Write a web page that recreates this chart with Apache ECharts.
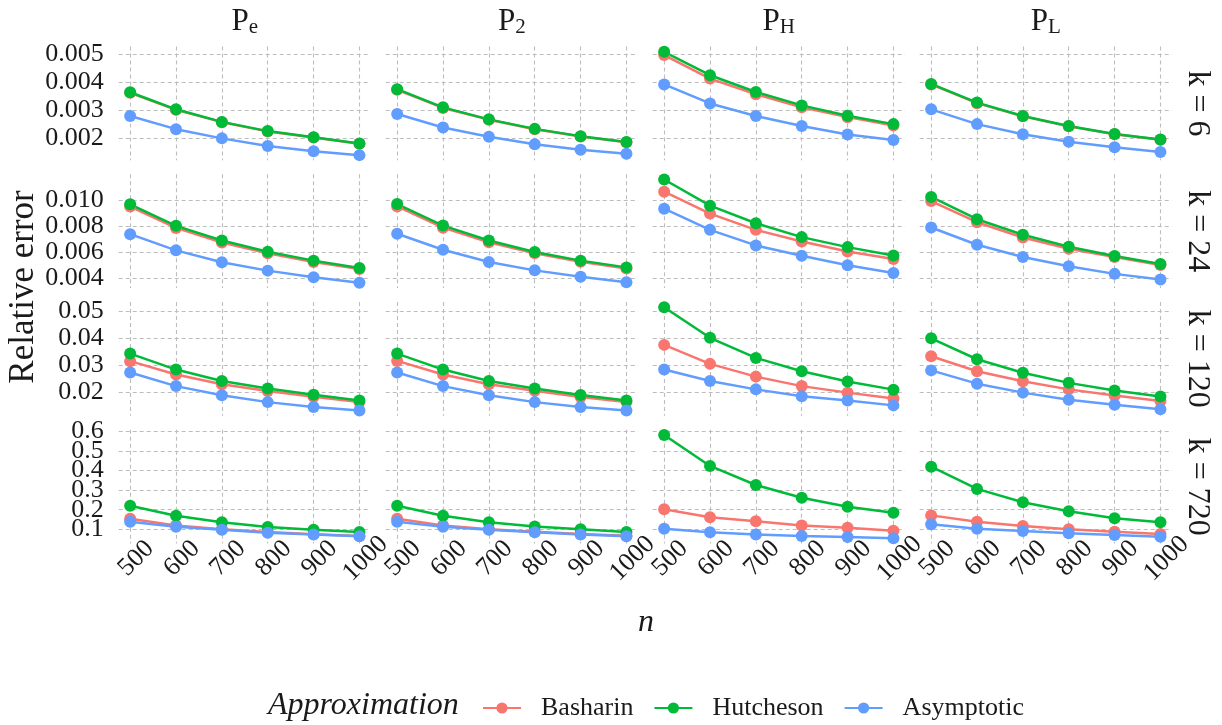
<!DOCTYPE html>
<html>
<head>
<meta charset="utf-8">
<script src="https://cdn.jsdelivr.net/npm/echarts@6/dist/echarts.min.js"></script>
<style>
html,body{margin:0;padding:0;background:#fff}
#chart{width:1222px;height:725px}
</style>
</head>
<body>
<div id="chart"></div>
<script>
var nValues=[500,600,700,800,900,1000];
var measureSubs=['e','2','H','L'];
var kValues=[6,24,120,720];
var approxNames=['Basharin','Hutcheson','Asymptotic'];

// each row = one k, inner arrays = Pe, P2, PH, PL
var basharin_k6=[
    [0.00362,0.00301,0.00257,0.00224,0.00202,0.00180],
    [0.00373,0.00308,0.00266,0.00232,0.00206,0.00185],
    [0.00497,0.00413,0.00357,0.00310,0.00275,0.00245],
    [0.00392,0.00325,0.00278,0.00242,0.00214,0.00194]];
var hutcheson_k6=[
    [0.00364,0.00303,0.00258,0.00225,0.00203,0.00181],
    [0.00375,0.00310,0.00267,0.00233,0.00207,0.00186],
    [0.00509,0.00425,0.00365,0.00317,0.00280,0.00250],
    [0.00394,0.00327,0.00279,0.00243,0.00215,0.00195]];
var asymptotic_k6=[
    [0.00279,0.00232,0.00199,0.00172,0.00153,0.00139],
    [0.00286,0.00238,0.00205,0.00178,0.00158,0.00144],
    [0.00392,0.00324,0.00279,0.00243,0.00213,0.00193],
    [0.00303,0.00250,0.00214,0.00187,0.00167,0.00150]];

var basharin_k24=[
    [0.00949,0.00785,0.00673,0.00590,0.00523,0.00468],
    [0.00950,0.00787,0.00675,0.00590,0.00524,0.00472],
    [0.01064,0.00895,0.00770,0.00680,0.00604,0.00545],
    [0.00992,0.00829,0.00711,0.00625,0.00560,0.00500]];
var hutcheson_k24=[
    [0.00967,0.00801,0.00688,0.00602,0.00533,0.00476],
    [0.00969,0.00803,0.00688,0.00600,0.00533,0.00481],
    [0.01158,0.00956,0.00821,0.00714,0.00637,0.00573],
    [0.01023,0.00852,0.00732,0.00640,0.00569,0.00507]];
var asymptotic_k24=[
    [0.00737,0.00612,0.00520,0.00456,0.00405,0.00362],
    [0.00740,0.00617,0.00523,0.00458,0.00408,0.00366],
    [0.00933,0.00770,0.00650,0.00571,0.00497,0.00438],
    [0.00788,0.00655,0.00561,0.00489,0.00431,0.00387]];

var basharin_k120=[
    [0.0315,0.0266,0.0230,0.0205,0.0184,0.0164],
    [0.0316,0.0266,0.0230,0.0206,0.0183,0.0164],
    [0.0375,0.0305,0.0258,0.0223,0.0199,0.0177],
    [0.0333,0.0278,0.0241,0.0211,0.0188,0.0168]];
var hutcheson_k120=[
    [0.0343,0.0284,0.0242,0.0214,0.0191,0.0170],
    [0.0343,0.0284,0.0242,0.0214,0.0190,0.0170],
    [0.0514,0.0401,0.0327,0.0278,0.0240,0.0210],
    [0.0399,0.0322,0.0272,0.0235,0.0207,0.0185]];
var asymptotic_k120=[
    [0.0273,0.0223,0.0189,0.0164,0.0146,0.0133],
    [0.0273,0.0223,0.0189,0.0164,0.0146,0.0133],
    [0.0284,0.0242,0.0211,0.0186,0.0170,0.0152],
    [0.0281,0.0232,0.0199,0.0173,0.0154,0.0138]];

var basharin_k720=[
    [0.154,0.120,0.100,0.086,0.075,0.066],
    [0.154,0.120,0.100,0.087,0.076,0.067],
    [0.202,0.161,0.141,0.120,0.108,0.093],
    [0.171,0.139,0.117,0.100,0.088,0.076]];
var hutcheson_k720=[
    [0.220,0.169,0.136,0.112,0.098,0.086],
    [0.220,0.169,0.136,0.114,0.100,0.086],
    [0.581,0.423,0.326,0.261,0.215,0.185],
    [0.419,0.306,0.238,0.192,0.156,0.136]];
var asymptotic_k720=[
    [0.139,0.113,0.098,0.083,0.074,0.065],
    [0.139,0.113,0.098,0.085,0.074,0.065],
    [0.103,0.085,0.074,0.066,0.061,0.054],
    [0.126,0.103,0.091,0.080,0.071,0.062]];

var yTicks_k6=['0.002','0.003','0.004','0.005'];
var yTicks_k24=['0.004','0.006','0.008','0.010'];
var yTicks_k120=['0.02','0.03','0.04','0.05'];
var yTicks_k720=['0.1','0.2','0.3','0.4','0.5','0.6'];

var rowsData=[
    [basharin_k6,hutcheson_k6,asymptotic_k6],
    [basharin_k24,hutcheson_k24,asymptotic_k24],
    [basharin_k120,hutcheson_k120,asymptotic_k120],
    [basharin_k720,hutcheson_k720,asymptotic_k720]];
var yTickRows=[yTicks_k6,yTicks_k24,yTicks_k120,yTicks_k720];
var colors=['#F8766D','#00BA38','#619CFF'];

// layout
var panelLeft=[118.7,385.7,652.7,919.7], panelW=252.2;
var panelTop=[46.6,174.3,302,429.8], panelH=113.7;
var font='"Liberation Serif","Times New Roman",serif';
var ink='#1a1a1a';
var gridLine={show:true,lineStyle:{type:[4,3],color:'#bdbdbd',width:1.1}};

function labelFor(labels){
    var vals=labels.map(Number);
    return function(v){
        for(var i=0;i<vals.length;i++){ if(Math.abs(vals[i]-v)<1e-9) return labels[i]; }
        return '';
    };
}

var grids=[],xAxes=[],yAxes=[],extraY=[],series=[],graphics=[];
for(var r=0;r<4;r++){
    var all=[];
    rowsData[r].forEach(s=>s.forEach(p=>p.forEach(v=>all.push(v))));
    var lo=Math.min.apply(null,all), hi=Math.max.apply(null,all), pad=(hi-lo)*0.05;
    var ticks=yTickRows[r].map(Number);
    // labels split over two axes so the tight 0.1..0.6 row keeps all its labels
    var evenTicks=ticks.filter((t,i)=>i%2===0), oddTicks=ticks.filter((t,i)=>i%2===1);
    var yLabel={customValues:evenTicks,formatter:labelFor(yTickRows[r]),
        showMinLabel:true,showMaxLabel:true,hideOverlap:false,
        margin:15,fontSize:26,fontFamily:font,color:ink};
    for(var c=0;c<4;c++){
        var g=r*4+c;
        grids.push({left:panelLeft[c],top:panelTop[r],width:panelW,height:panelH,outerBoundsMode:'none'});
        xAxes.push({
            type:'value',gridIndex:g,min:475,max:1025,
            axisLine:{show:false},
            axisTick:{show:false,customValues:nValues},
            axisLabel:{show:r===3,customValues:nValues,rotate:45,align:'center',verticalAlign:'middle',
                margin:21,padding:[0,0,0,17],fontSize:26,fontFamily:font,color:ink,
                showMinLabel:true,showMaxLabel:true,
                formatter:function(v){return String(v);}},
            splitLine:gridLine
        });
        yAxes.push({
            type:'value',gridIndex:g,min:lo-pad,max:hi+pad,
            axisLine:{show:false},
            axisTick:{show:false,customValues:ticks},
            axisLabel:Object.assign({},yLabel,{show:c===0}),
            splitLine:gridLine
        });
        if(c===0){
            extraY.push({
                type:'value',gridIndex:g,min:lo-pad,max:hi+pad,position:'left',
                axisLine:{show:false},
                axisTick:{show:false,customValues:oddTicks},
                axisLabel:Object.assign({},yLabel,{customValues:oddTicks}),
                splitLine:{show:false}
            });
        }
        for(var s=0;s<3;s++){
            var vals=rowsData[r][s][c];
            series.push({
                name:approxNames[s],type:'line',xAxisIndex:g,yAxisIndex:g,
                data:nValues.map((n,i)=>[n,vals[i]]),
                symbol:'circle',symbolSize:12,
                itemStyle:{color:colors[s]},
                lineStyle:{color:colors[s],width:2.5},
                emphasis:{disabled:true}
            });
        }
    }
}

// strip labels
for(var c=0;c<4;c++){
    graphics.push({type:'text',x:panelLeft[c]+panelW/2,y:22,style:{
        text:'{p|P}{s|'+measureSubs[c]+'}',align:'center',verticalAlign:'middle',fill:ink,
        rich:{p:{fontSize:31,fontFamily:font,lineHeight:32,fill:ink},
              s:{fontSize:21,fontFamily:font,lineHeight:19,verticalAlign:'bottom',fill:ink}}
    }});
}
for(var r=0;r<4;r++){
    graphics.push({type:'text',x:1197,y:panelTop[r]+panelH/2,rotation:-Math.PI/2,style:{
        text:'k = '+kValues[r],align:'center',verticalAlign:'middle',fill:ink,
        font:'32px '+font}});
}
graphics.push({type:'text',x:24,y:287,rotation:Math.PI/2,style:{
    text:'Relative error',align:'center',verticalAlign:'middle',fill:ink,font:'35px '+font}});
graphics.push({type:'text',x:646,y:623,style:{
    text:'n',align:'center',verticalAlign:'middle',fill:ink,font:'italic 32px '+font}});
graphics.push({type:'text',x:268,y:706,style:{
    text:'Approximation',align:'left',verticalAlign:'middle',fill:ink,font:'italic 32px '+font}});

var myChart=echarts.init(document.getElementById('chart'));
myChart.setOption({
    animation:false,
    backgroundColor:'#fff',
    grid:grids,
    xAxis:xAxes,
    yAxis:yAxes.concat(extraY),
    series:series,
    legend:{
        data:approxNames,left:477,top:690,itemWidth:38,itemHeight:14,itemGap:20,
        selectedMode:false,
        textStyle:{fontSize:26,fontFamily:font,color:ink,padding:[0,0,0,15]}
    },
    graphic:graphics
});
</script>
</body>
</html>
